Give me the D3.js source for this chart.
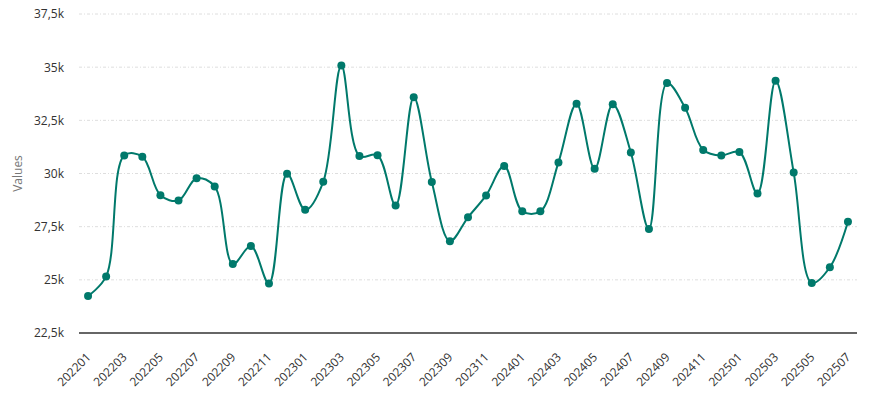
<!DOCTYPE html>
<html>
<head>
<meta charset="utf-8">
<script src="https://cdn.jsdelivr.net/npm/d3@7"></script>
<style>
  body { margin: 0; background: #fff; }
  svg { display: block; }
  svg text { font-family: "Open Sans", "Noto Sans", sans-serif; }
</style>
</head>
<body>
<svg id="chart" width="876" height="406"></svg>
<script>
// monthly periods, 2022-01 .. 2025-07
var periods = [
  "202201", "202202", "202203", "202204", "202205", "202206",
  "202207", "202208", "202209", "202210", "202211", "202212",
  "202301", "202302", "202303", "202304", "202305", "202306",
  "202307", "202308", "202309", "202310", "202311", "202312",
  "202401", "202402", "202403", "202404", "202405", "202406",
  "202407", "202408", "202409", "202410", "202411", "202412",
  "202501", "202502", "202503", "202504", "202505", "202506",
  "202507"
]

var values = [
  24240, 25160, 30850, 30790, 28980, 28730,
  29780, 29390, 25740, 26590, 24830, 29990,
  28290, 29610, 35080, 30820, 30860, 28500,
  33590, 29600, 26820, 27940, 28970, 30350,
  28220, 28220, 30520, 33280, 30220, 33260,
  30990, 27390, 34250, 33090, 31110, 30850,
  31010, 29060, 34360, 30050, 24850, 25590,
  27730
]

var yTicks = [22500, 25000, 27500, 30000, 32500, 35000, 37500]

var COLOR = "#00796b"
var MARGIN = { top: 14, right: 19, bottom: 73, left: 79 }
var WIDTH = 876
var HEIGHT = 406

var data = periods.map(function(p, i) { return { period: p, value: values[i] } })

var svg = d3.select("#chart")
var g = svg.append("g")
  .attr("transform", "translate(" + MARGIN.left + "," + MARGIN.top + ")")

var innerW = WIDTH - MARGIN.left - MARGIN.right
var innerH = HEIGHT - MARGIN.top - MARGIN.bottom

var x = d3.scalePoint()
  .domain(periods)
  .range([0, innerW])
  .padding(0.5)

var y = d3.scaleLinear()
  .domain([22500, 37500])
  .range([innerH, 0])

// "37,5k" style labels
function fmtK(v) {
  var k = v / 1000
  return (k % 1 === 0 ? String(k) : k.toFixed(1).replace(".", ",")) + "k"
}

// horizontal grid
g.append("g")
  .selectAll("line")
  .data(yTicks.slice(1))
  .enter().append("line")
  .attr("x1", 0)
  .attr("x2", innerW)
  .attr("y1", function(d) { return y(d) })
  .attr("y2", function(d) { return y(d) })
  .attr("stroke", "#dedede")
  .attr("stroke-width", 1)
  .attr("stroke-dasharray", "3 2 1 2")

// y axis (labels only)
var yAxis = g.append("g")
  .call(d3.axisLeft(y).tickValues(yTicks).tickFormat(fmtK).tickSize(0).tickPadding(15))
  .attr("font-family", null)
  .attr("font-size", "12px")
yAxis.select(".domain").remove()
yAxis.selectAll("text")
  .attr("fill", "#333")

// x axis
var xAxis = g.append("g")
  .attr("transform", "translate(0," + innerH + ")")
  .call(d3.axisBottom(x)
    .tickValues(periods.filter(function(p, i) { return i % 2 === 0 }))
    .tickSize(0))
  .attr("font-family", null)
  .attr("font-size", "12px")
xAxis.select(".domain")
  .attr("stroke", "#333")
  .attr("stroke-width", 1.5)
  .attr("d", "M0,0H" + innerW)
xAxis.selectAll("text")
  .attr("fill", "#333")
  .attr("x", 0)
  .attr("y", 0)
  .attr("dy", "0.35em")
  .attr("text-anchor", "end")
  .attr("transform", "translate(0,22) rotate(-45)")

// y axis title
svg.append("text")
  .attr("transform", "translate(22," + (MARGIN.top + y(30000)) + ") rotate(-90)")
  .attr("text-anchor", "middle")
  .attr("fill", "#777")
  .style("font-size", "12px")
  .text("Values")

var line = d3.line()
  .x(function(d) { return x(d.period) })
  .y(function(d) { return y(d.value) })
  .curve(d3.curveCatmullRom)

g.append("path")
  .datum(data)
  .attr("fill", "none")
  .attr("stroke", COLOR)
  .attr("stroke-width", 2)
  .attr("d", line)

g.selectAll(".dot")
  .data(data)
  .enter().append("circle")
  .attr("class", "dot")
  .attr("cx", function(d) { return x(d.period) })
  .attr("cy", function(d) { return y(d.value) })
  .attr("r", 4)
  .attr("fill", COLOR)
</script>
</body>
</html>
